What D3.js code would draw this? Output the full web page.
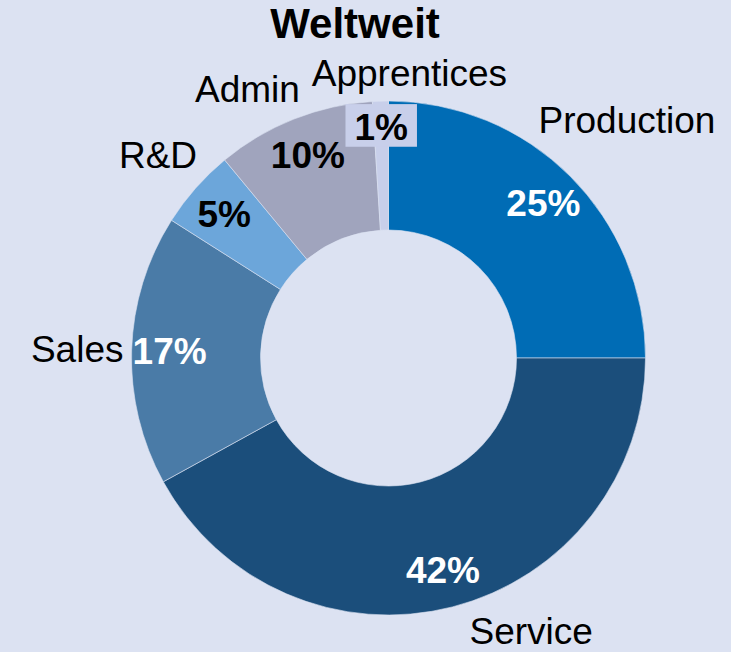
<!DOCTYPE html>
<html>
<head>
<meta charset="utf-8">
<script src="https://cdn.jsdelivr.net/npm/d3@7"></script>
<style>
  html, body { margin: 0; padding: 0; background: #dce2f2; }
  svg { display: block; font-family: "Liberation Sans", Arial, sans-serif; }
</style>
</head>
<body>
<script>
var categories = ["Production", "Service", "Sales", "R&D", "Admin", "Apprentices"]
var shares = [25, 42, 17, 5, 10, 1]
var colors = ["#006cb5", "#1b4e7b", "#4a7ba7", "#6ca6da", "#a0a4bd", "#c8cfea"]
var pctColors = ["#fff", "#fff", "#fff", "#000", "#000", "#000"]
var title = "Weltweit"

var width = 731, height = 652
var cx = 388.5, cy = 358
var outerR = 257, innerR = 128
var fs = 37

var svg = d3.select("body").append("svg")
    .attr("width", width).attr("height", height)

svg.append("rect").attr("width", width).attr("height", height).attr("fill", "#dce2f2")

svg.append("text")
    .attr("x", 355).attr("y", 38)
    .attr("text-anchor", "middle")
    .attr("font-size", 42).attr("font-weight", "bold")
    .text(title)

var data = categories.map(function(c, i) { return {name: c, value: shares[i], color: colors[i], pc: pctColors[i]} })

var pie = d3.pie().sort(null).value(function(d) { return d.value })
var arcs = pie(data)

var arc = d3.arc().innerRadius(innerR).outerRadius(outerR)
var pctR = 219
var pctArc = d3.arc().innerRadius(pctR).outerRadius(pctR)

var g = svg.append("g").attr("transform", "translate(" + [cx, cy] + ")")

g.selectAll("path.slice")
    .data(arcs).enter()
    .append("path")
    .attr("class", "slice")
    .attr("d", arc)
    .attr("fill", function(d) { return d.data.color })
    .attr("stroke", "#dce2f2")
    .attr("stroke-width", 0.6)

// percentage labels
var pct = g.selectAll("g.pct")
    .data(arcs).enter()
    .append("g").attr("class", "pct")

pct.each(function(d) {
    var sel = d3.select(this)
    var t = sel.append("text")
        .attr("text-anchor", "middle")
        .attr("y", 0.36 * fs)
        .attr("font-size", fs).attr("font-weight", "bold")
        .attr("fill", d.data.pc)
        .text(d.data.value + "%")
    var w = t.node().getComputedTextLength()
    var pos = pctArc.centroid(d)
    // label does not fit inside its slice -> boxed, pushed to the outer edge
    if ((d.endAngle - d.startAngle) * pctR < w) {
        var bh = 0.72 * fs + 16
        sel.insert("rect", "text")
            .attr("x", -w / 2 - 9).attr("width", w + 18)
            .attr("y", 0.36 * fs - 0.72 * fs - 9).attr("height", bh)
            .attr("fill", d.data.color)
        var r = outerR - bh / 2 - 4
        pos = d3.arc().innerRadius(r).outerRadius(r).centroid(d)
    }
    sel.attr("transform", "translate(" + pos + ")")
})

// category labels outside the ring
var labelR = 265, boxH = 40, gap = 10
function boxAt(a, w, d) {
    var x = d * Math.sin(a), y = -d * Math.cos(a)
    return {cx: x, cy: y, x0: x - w / 2, x1: x + w / 2, y0: y - boxH / 2, y1: y + boxH / 2}
}
function nearest(b) {
    var nx = Math.max(b.x0, Math.min(0, b.x1)), ny = Math.max(b.y0, Math.min(0, b.y1))
    return Math.hypot(nx, ny)
}
function place(a, w) {
    var lo = 0, hi = 800
    for (var k = 0; k < 40; k++) {
        var m = (lo + hi) / 2
        if (nearest(boxAt(a, w, m)) < labelR) lo = m; else hi = m
    }
    return boxAt(a, w, hi)
}
function inBounds(b) {
    return b.x0 + cx >= 4 && b.x1 + cx <= width - 4 && b.y0 + cy >= 50 && b.cy + 0.36 * fs + cy <= height - 8
}
function overlap(a, b) {
    return a.x0 < b.x1 + gap && a.x1 > b.x0 - gap && a.y0 < b.y1 && a.y1 > b.y0
}

var cats = g.selectAll("text.cat")
    .data(arcs).enter()
    .append("text")
    .attr("class", "cat")
    .attr("text-anchor", "middle")
    .attr("font-size", fs)
    .text(function(d) { return d.data.name })

var widths = [], angles = []
cats.each(function(d, i) {
    widths[i] = this.getComputedTextLength()
    angles[i] = (d.startAngle + d.endAngle) / 2
})
var n = angles.length, step = Math.PI / 720

// keep labels inside the picture
for (var i = 0; i < n; i++) {
    if (inBounds(place(angles[i], widths[i]))) continue
    for (var s = 1; s <= 120; s++) {
        if (inBounds(place(angles[i] - s * step, widths[i]))) { angles[i] -= s * step; break }
        if (inBounds(place(angles[i] + s * step, widths[i]))) { angles[i] += s * step; break }
    }
}
// push neighbouring labels apart
for (var it = 0; it < 400; it++) {
    var moved = false
    for (var i = 0; i < n; i++) {
        var j = (i + 1) % n
        if (overlap(place(angles[i], widths[i]), place(angles[j], widths[j]))) {
            angles[i] -= step; angles[j] += step; moved = true
        }
    }
    if (!moved) break
}

cats.each(function(d, i) {
    var b = place(angles[i], widths[i])
    d3.select(this).attr("x", b.cx).attr("y", b.cy + 0.36 * fs)
})
</script>
</body>
</html>
